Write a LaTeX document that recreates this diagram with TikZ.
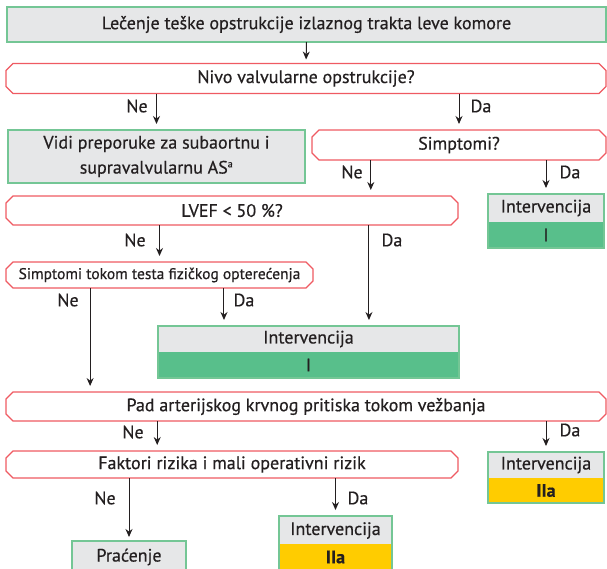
\documentclass[tikz,border=0pt]{standalone}
\usepackage{fontspec}
\setmainfont{PT Sans}[FakeBold=0.5]
\usetikzlibrary{arrows.meta,calc}

\definecolor{boxgreen}{HTML}{74C695}
\definecolor{boxgray}{HTML}{E6E7E8}
\definecolor{askred}{HTML}{EF5A62}
\definecolor{classI}{HTML}{58BF8B}
\definecolor{classIIa}{HTML}{FFCC00}
\definecolor{ink}{HTML}{231F20}

% outline with cut corners around a question node
\newcommand\askframe[1]{%
  \draw[askred, line width=1.1pt, fill=white, line join=miter]
    ([xshift=7pt]#1.north west) -- ([xshift=-7pt]#1.north east)
    -- ([yshift=-7pt]#1.north east) -- ([yshift=7pt]#1.south east)
    -- ([xshift=-7pt]#1.south east) -- ([xshift=7pt]#1.south west)
    -- ([yshift=7pt]#1.south west) -- ([yshift=-7pt]#1.north west) -- cycle;}

\begin{document}
\begin{tikzpicture}[x=1pt,y=-1pt,
  every node/.style={font=\fontsize{18}{25}\selectfont, text=ink, inner sep=0pt, outer sep=0pt},
  infobox/.style={rectangle, draw=boxgreen, fill=boxgray, line width=1.1pt, align=center},
  askbox/.style={rectangle},
  headcell/.style={rectangle, fill=boxgray},
  classcell/.style={rectangle, fill=#1},
  flow/.style={draw=ink, line width=1pt, -{Stealth[length=8pt,width=7pt]}, shorten >=6pt},
  lbl/.style={font=\fontsize{18}{20}\selectfont}
]
\useasboundingbox (0,0) rectangle (607,568);
\clip (0,0) rectangle (607,568);

% question boxes: sized nodes, outlines drawn behind the text
\path node[askbox, minimum width=600, minimum height=30] (nivo) at (306,78.5) {};
\askframe{nivo}
\node at (nivo) {Nivo valvularne opstrukcije?};

\path node[askbox, minimum width=294, minimum height=30] (simp) at (459,145) {};
\askframe{simp}
\node at (simp) {Simptomi?};

\path node[askbox, minimum width=452, minimum height=29] (lvef) at (232,210.5) {};
\askframe{lvef}
\node at (lvef) {LVEF < 50 \%?};

\path node[askbox, minimum width=307, minimum height=26] (ex) at (159.5,275) {};
\askframe{ex}
\node[font=\fontsize{15.5}{18}\selectfont] at (ex) {Simptomi tokom testa fizičkog opterećenja};

\path node[askbox, minimum width=600, minimum height=29] (pad) at (306,406.5) {};
\askframe{pad}
\node at (pad) {Pad arterijskog krvnog pritiska tokom vežbanja};

\path node[askbox, minimum width=452, minimum height=27] (fakt) at (232,464.5) {};
\askframe{fakt}
\node at (fakt) {Faktori rizika i mali operativni rizik};

% info boxes
\node[infobox, minimum width=599, minimum height=35] (top) at (306.5,24.5)
  {Lečenje teške opstrukcije izlaznog trakta leve komore};
\node[infobox, minimum width=297, minimum height=53] (vidi) at (156.5,156.5)
  {Vidi preporuke za subaortnu i\\supravalvularnu AS\textsuperscript{\fontsize{10}{10}\selectfont a}};
\node[infobox, minimum width=114, minimum height=32] (prac) at (129,557) {Praćenje};

% intervention boxes: header cell + class cell
\node[headcell, minimum width=116, minimum height=28] (intAh) at (546,208) {Intervencija};
\node[classcell=classI, minimum width=116, minimum height=26] (intAc) at (546,235) {I};
\draw[boxgreen, line width=1.1pt] (intAh.north west) rectangle (intAc.south east);

\node[headcell, minimum width=301, minimum height=26] (intBh) at (308.5,339) {Intervencija};
\node[classcell=classI, minimum width=301, minimum height=26] (intBc) at (308.5,365) {I};
\draw[boxgreen, line width=1.1pt] (intBh.north west) rectangle (intBc.south east);

\node[headcell, minimum width=116, minimum height=26] (intCh) at (546,465) {Intervencija};
\node[classcell=classIIa, minimum width=116, minimum height=25, font=\fontsize{18}{20}\selectfont\bfseries] (intCc) at (546,490.5) {IIa};
\draw[boxgreen, line width=1.1pt] (intCh.north west) rectangle (intCc.south east);

\node[headcell, minimum width=113, minimum height=29] (intDh) at (335.5,530.5) {Intervencija};
\node[classcell=classIIa, minimum width=113, minimum height=26, font=\fontsize{18}{20}\selectfont\bfseries] (intDc) at (335.5,557) {IIa};
\draw[boxgreen, line width=1.1pt] (intDh.north west) rectangle (intDc.south east);

% connectors
\draw[flow, shorten >=4pt] (top.south) -- (nivo.north);
\draw[flow] (vidi.north |- nivo.south) -- (vidi.north);
\draw[flow] (simp.north |- nivo.south) -- (simp.north);
\coordinate (simpNe) at ($(simp.south west)!0.2!(simp.south east)$);
\draw[flow] (simpNe) -- (simpNe |- lvef.north);
\draw[flow] (intAh.north |- simp.south) -- (intAh.north);
\draw[flow] (ex.north |- lvef.south) -- (ex.north);
\coordinate (lvefDa) at ($(lvef.south west)!0.803!(lvef.south east)$);
\draw[flow] (lvefDa) -- (lvefDa |- intBh.north);
\coordinate (exNe) at ($(ex.south west)!0.274!(ex.south east)$);
\draw[flow] (exNe) -- (exNe |- pad.north);
\coordinate (exDa) at ($(ex.south west)!0.71!(ex.south east)$);
\draw[flow] (exDa) -- (exDa |- intBh.north);
\coordinate (padNe) at ($(pad.south west)!0.252!(pad.south east)$);
\draw[flow] (padNe) -- (padNe |- fakt.north);
\draw[flow] (intCh.north |- pad.south) -- (intCh.north);
\draw[flow, shorten >=4pt] (prac.north |- fakt.south) -- (prac.north);
\draw[flow] (intDh.north |- fakt.south) -- (intDh.north);

% branch labels
\node[lbl] (l1) at (137,106) {Ne};
\node[lbl] (l2) at (481,106) {Da};
\node[lbl] (l3) at (352,172) {Ne};
\node[lbl] (l4) at (570,172) {Da};
\node[lbl] (l5) at (135,240) {Ne};
\node[lbl] (l6) at (392,240) {Da};
\node[lbl] (l7) at (68,300) {Ne};
\node[lbl] (l8) at (244,300) {Da};
\node[lbl] (l9) at (133,432) {Ne};
\node[lbl] (l10) at (570,430) {Da};
\node[lbl] (l11) at (105,498) {Ne};
\node[lbl] (l12) at (358,498) {Da};
\end{tikzpicture}
\end{document}
